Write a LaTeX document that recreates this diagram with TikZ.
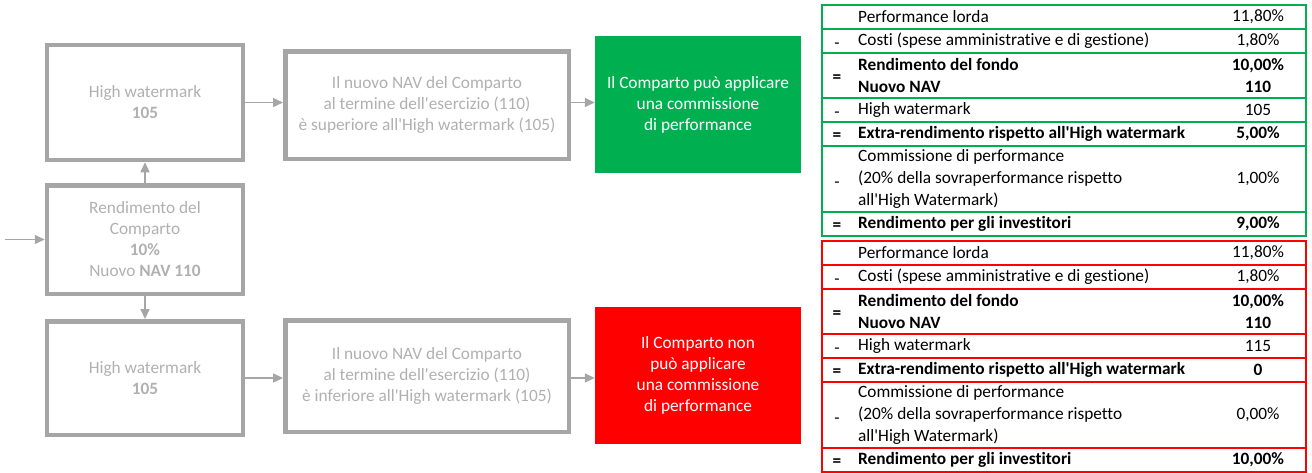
\documentclass[tikz,border=0pt]{standalone}
\usepackage{fontspec}
\newfontfamily\carlito{Carlito}[Ligatures=NoCommon]
\usetikzlibrary{arrows.meta}

\definecolor{boxgray}{HTML}{A6A6A6}
\definecolor{txtgray}{HTML}{B0B0B0}
\definecolor{okgreen}{HTML}{00B050}
\definecolor{kored}{HTML}{FF0000}

\newcommand{\boxfont}{\carlito\fontsize{17.3}{21}\selectfont}
\newcommand{\tabfont}{\carlito\fontsize{17.3}{21.7}\selectfont}

\tikzset{
  flowbox/.style={rectangle, draw=boxgray, line width=4.5pt, text=txtgray, align=center, inner sep=0pt, font=\boxfont},
  resbox/.style={rectangle, text=white, align=center, inner sep=0pt, minimum width=206pt, minimum height=137pt, font=\boxfont},
  flow/.style={draw=boxgray, line width=1.5pt, -{Triangle[length=10pt,width=9pt]}},
  tabrow/.style={line width=2.5pt},
  tabtxt/.style={inner sep=0pt, anchor=west, align=left, font=\tabfont},
  tabbold/.style={tabtxt, font=\tabfont\bfseries},
  tabsign/.style={inner sep=0pt, anchor=base, font=\tabfont},
  tabsignb/.style={tabsign, font=\tabfont\bfseries},
  tabval/.style={inner sep=0pt, align=center, font=\tabfont},
  tabvalb/.style={tabval, font=\tabfont\bfseries},
}

% one results table: colour, shift, prefix, high watermark, extra, commissione, rendimento
\newcommand{\perftable}[7]{%
  \begin{scope}[yshift=#2]
    \foreach \ya/\yb in {5/29,29/53,53/98,98/122,122/146,146/212,212/236}
      \draw[tabrow, draw=#1] (822,\ya) rectangle (1306,\yb);
    \node[tabtxt] (#3pl) at (858,17) {Performance lorda};
    \node[tabval] (#3plv) at (1258,17) {11,80\%};
    \node[tabsign] (#3cs) at (837,48) {-};
    \node[tabtxt] (#3c) at (858,41) {Costi (spese amministrative e di gestione)};
    \node[tabval] (#3cv) at (1258,41) {1,80\%};
    \node[tabsignb] (#3rs) at (837,82) {=};
    \node[tabbold] (#3r) at (858,75.5) {Rendimento del fondo\\Nuovo NAV};
    \node[tabvalb] (#3rv) at (1258,75.5) {10,00\%\\110};
    \node[tabsign] (#3hs) at (837,117) {-};
    \node[tabtxt] (#3h) at (858,110) {High watermark};
    \node[tabval] (#3hv) at (1258,110) {#4};
    \node[tabsignb] (#3es) at (837,140) {=};
    \node[tabbold] (#3e) at (858,134) {Extra-rendimento rispetto all\textquotesingle High watermark};
    \node[tabvalb] (#3ev) at (1258,134) {#5};
    \node[tabsign] (#3ms) at (837,187) {-};
    \node[tabtxt] (#3m) at (858,179) {Commissione di performance\\(20\% della sovraperformance rispetto\\all\textquotesingle High Watermark)};
    \node[tabval] (#3mv) at (1258,179) {#6};
    \node[tabsignb] (#3is) at (837,230) {=};
    \node[tabbold] (#3i) at (858,224) {Rendimento per gli investitori};
    \node[tabvalb] (#3iv) at (1258,224) {#7};
  \end{scope}}

\begin{document}
\begin{tikzpicture}[x=1pt, y=-1pt]
    \useasboundingbox (0,0) rectangle (1312,472);

    % flow on the left
    \node[flowbox, minimum width=196pt, minimum height=115pt] (hwtop) at (145,102.5) {High watermark\\\textbf{105}};
    \node[flowbox, minimum width=196pt, minimum height=108.5pt] (rend) at (145,239.5) {Rendimento del\\Comparto\\\textbf{10\%}\\Nuovo \textbf{NAV 110}};
    \node[flowbox, minimum width=196pt, minimum height=113.5pt] (hwbot) at (145,378) {High watermark\\\textbf{105}};
    \node[flowbox, minimum width=283.5pt, minimum height=107.5pt] (navtop) at (427,105) {Il nuovo NAV del Comparto\\al termine dell\textquotesingle esercizio (110)\\è superiore all\textquotesingle High watermark (105)};
    \node[flowbox, minimum width=283.5pt, minimum height=111.5pt] (navbot) at (427,376) {Il nuovo NAV del Comparto\\al termine dell\textquotesingle esercizio (110)\\è inferiore all\textquotesingle High watermark (105)};
    \node[resbox, fill=okgreen] (canfee) at (698,104.5) {Il Comparto può applicare\\una commissione\\di performance};
    \node[resbox, fill=kored] (nofee) at (698,375.5) {Il Comparto non\\può applicare\\una commissione\\di performance};

    \coordinate (start) at (5,239.5);
    \draw[flow] (start) -- (rend);
    \draw[flow] (rend) -- (hwtop);
    \draw[flow] (rend) -- (hwbot);
    \draw[flow] (hwtop.east) -- (hwtop.east -| navtop.west);
    \draw[flow] (navtop.east |- hwtop.east) -- (hwtop.east -| canfee.west);
    \draw[flow] (hwbot.east) -- (hwbot.east -| navbot.west);
    \draw[flow] (navbot.east |- hwbot.east) -- (hwbot.east -| nofee.west);

    % the two tables
    \perftable{okgreen}{0pt}{g}{105}{5,00\%}{1,00\%}{9,00\%}
    \perftable{kored}{-236pt}{r}{115}{0}{0,00\%}{10,00\%}
\end{tikzpicture}
\end{document}
